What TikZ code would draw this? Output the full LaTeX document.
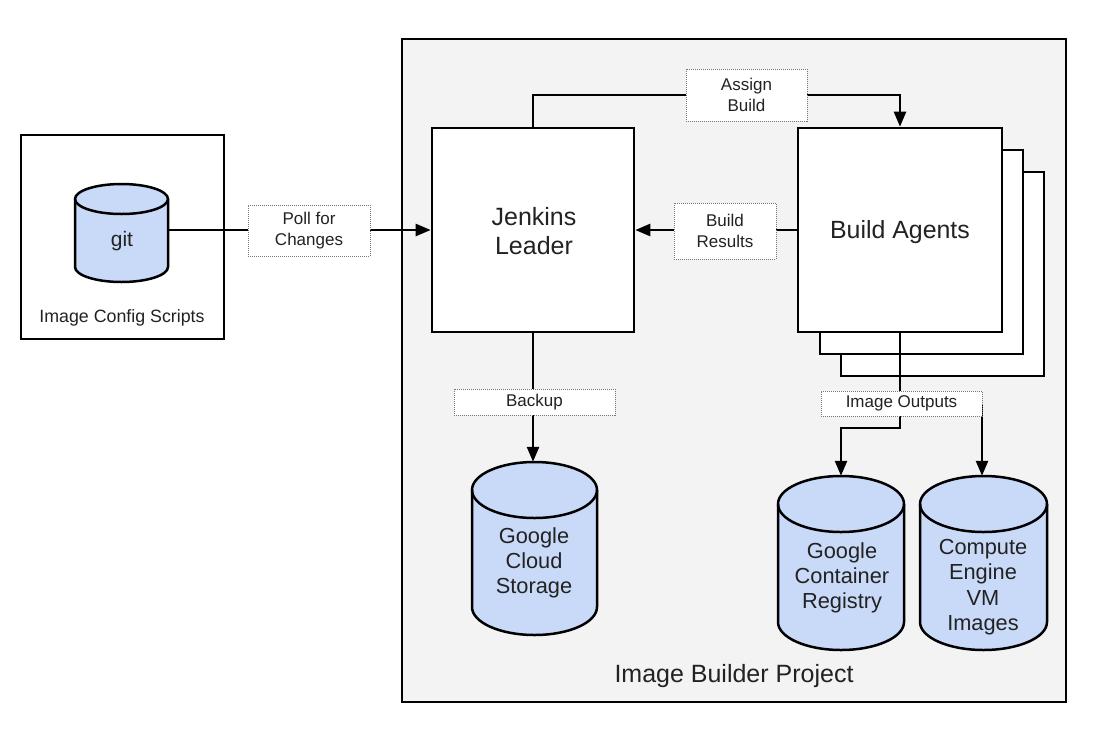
\documentclass[tikz,border=0pt]{standalone}
\usepackage{fontspec}
\setmainfont{Liberation Sans}
\usetikzlibrary{arrows.meta}
\definecolor{projfill}{HTML}{F3F3F3}
\definecolor{cylfill}{HTML}{C9DAF8}
\definecolor{txt}{HTML}{222222}
\definecolor{dotgray}{HTML}{777777}
\newcommand\dbcyl[6]{%
  \path[fill=cylfill,draw=black,line width=2.5pt,line join=round]
    (#2-#5,#3+#6) -- (#2-#5,#4-#6)
    arc[start angle=180,end angle=360,x radius=#5pt,y radius=#6pt]
    -- (#2+#5,#3+#6)
    arc[start angle=0,end angle=180,x radius=#5pt,y radius=#6pt] -- cycle;
  \draw[line width=2.5pt] (#2-#5,#3+#6)
    arc[start angle=180,end angle=360,x radius=#5pt,y radius=#6pt];
  \node[inner sep=0pt,minimum width={2*#5*1pt},minimum height={(#4-#3)*1pt}] (#1) at (#2,{(#3+#4)/2}) {};
}
\tikzset{
  every node/.style={text=txt},
  box/.style={draw=black,fill=white,line width=2.6pt,inner sep=0pt},
  lbl/.style={draw=dotgray,densely dotted,line width=1pt,fill=white,inner sep=0pt,align=center,font=\fontsize{17}{21.5}\selectfont},
  arr/.style={line width=2.5pt,-{Triangle[length=15pt,width=12pt]}},
  con/.style={line width=2.5pt},
  bigtxt/.style={font=\fontsize{25}{29}\selectfont,align=center},
  cyltxt/.style={font=\fontsize{21.8}{25.3}\selectfont,align=center},
}
\begin{document}
\begin{tikzpicture}[x={(1pt,0)},y={(0,-1pt)}]
\useasboundingbox (0,0) rectangle (1104,740);
\fill[white] (0,0) rectangle (1104,740);
% project box
\node[draw=black,fill=projfill,line width=2.8pt,minimum width=664pt,minimum height=663pt,inner sep=0pt] (proj) at (734,370.5) {};
\node[font=\fontsize{25}{28}\selectfont] (projtxt) at (734,676) {Image Builder Project};
% left box
\node[box,minimum width=203pt,minimum height=204pt] (cfg) at (122.5,237) {};
\node[font=\fontsize{17.8}{20}\selectfont] (cfgtxt) at (122,318) {Image Config Scripts};
\dbcyl{git}{121.5}{184}{282}{46.5}{15}
\node[font=\fontsize{21}{24}\selectfont] (gittxt) at (122,241) {git};
% Jenkins
\node[box,minimum width=202pt,minimum height=204pt] (jenkins) at (533,230) {};
\node[bigtxt] (jtxt) at (534,231) {Jenkins\\Leader};
% Build agents stack
\node[box,minimum width=203pt,minimum height=204pt] (agent3) at (942.5,274) {};
\node[box,minimum width=203pt,minimum height=204pt] (agent2) at (921.5,252) {};
\node[box,minimum width=204pt,minimum height=204pt] (agent) at (900,230) {};
\node[font=\fontsize{24.9}{28}\selectfont] (atxt) at (900,232) {Build Agents};
% cylinders
\dbcyl{gcs}{534.5}{462}{635}{62.5}{28}
\node[cyltxt] (gcstxt) at (534,563) {Google\\Cloud\\Storage};
\dbcyl{gcr}{841}{476}{650}{63}{28}
\node[cyltxt] (gcrtxt) at (842,578) {Google\\Container\\Registry};
\dbcyl{ce}{983.5}{476}{650}{63.5}{28}
\node[cyltxt] (cetxt) at (983,587) {Compute\\Engine\\VM\\Images};
% label positions
\coordinate (pollc) at (309,230.5);
\coordinate (assignc) at (746.5,95);
\coordinate (resc) at (725,231);
\coordinate (backc) at (534.5,402);
\coordinate (outc) at (901.5,403.5);
\coordinate (outr) at (982,403.5);
\coordinate (bend) at (900,428);
% connectors
\draw[arr] (git.east |- jenkins.west) -- (jenkins.west);
\draw[arr] (jenkins.north) |- (agent.north |- assignc) -- (agent.north);
\draw[arr] (agent.west) -- (jenkins.east);
\draw[arr] (jenkins.south) -- (jenkins.south |- gcs.north);
\draw[arr] (agent.south) -- (bend) -| (gcr.north);
\draw[con] (agent.south) |- (outr);
\draw[arr] (outr) -- (outr |- ce.north);
% labels
\node[lbl,minimum width=122pt,minimum height=51pt] (poll) at (pollc) {Poll for\\Changes};
\node[lbl,minimum width=121pt,minimum height=52pt] (assign) at (assignc) {Assign\\Build};
\node[lbl,minimum width=102pt,minimum height=56pt] (res) at (resc) {Build\\Results};
\node[lbl,minimum width=161pt,minimum height=26pt] (backup) at (backc) {Backup};
\node[lbl,minimum width=161pt,minimum height=25pt] (outputs) at (outc) {Image Outputs};
\end{tikzpicture}
\end{document}
